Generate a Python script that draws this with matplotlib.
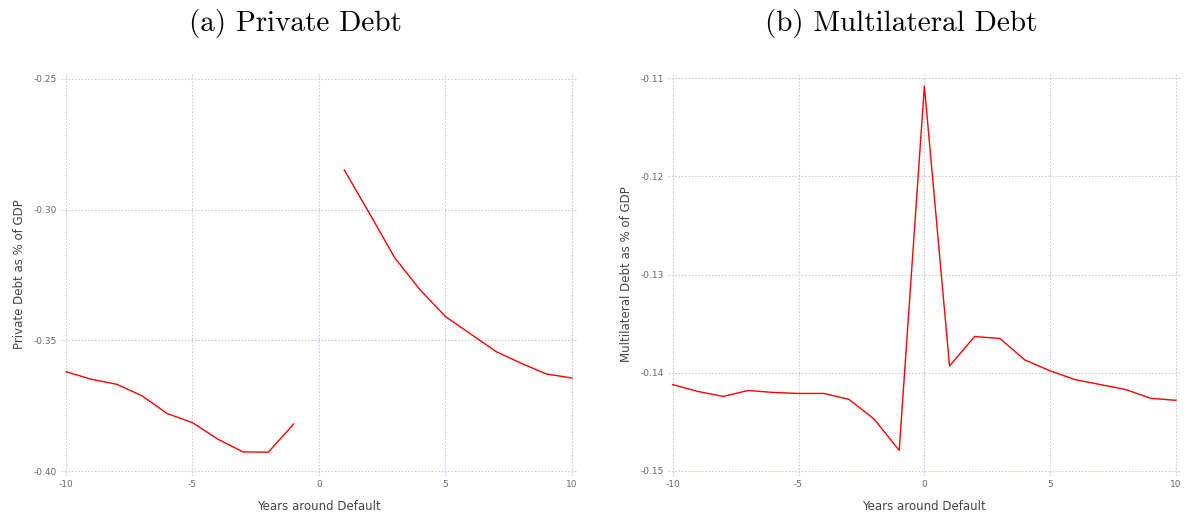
import numpy as np
import matplotlib
matplotlib.use("Agg")
import matplotlib.pyplot as plt

years = list(range(-10, 11))
private_debt = [-0.3620, -0.3649, -0.3668, -0.3712, -0.3780, -0.3815, -0.3878, -0.3927, -0.3928, -0.3820,
                np.nan,
                -0.2848, -0.3015, -0.3185, -0.3307, -0.3409, -0.3476, -0.3543, -0.3588, -0.3629, -0.3644]
multilateral_debt = [-0.1412, -0.1419, -0.1424, -0.1418, -0.1420, -0.1421, -0.1421, -0.1427, -0.1447, -0.1479,
                     -0.1108,
                     -0.1393, -0.1363, -0.1365, -0.1387, -0.1398, -0.1407, -0.1412, -0.1417, -0.1426, -0.1428]

titles = ["(a) Private Debt", "(b) Multilateral Debt"]
ylabels = ["Private Debt as % of GDP", "Multilateral Debt as % of GDP"]
xlabel = "Years around Default"
xticks = [-10, -5, 0, 5, 10]
yticks_left = [-0.40, -0.35, -0.30, -0.25]
yticks_right = [-0.15, -0.14, -0.13, -0.12, -0.11]

fig = plt.figure(figsize=(11.86, 5.15), dpi=100)
ax1 = fig.add_axes([0.0514, 0.0763, 0.4351, 0.7825])
ax2 = fig.add_axes([0.5630, 0.0763, 0.4328, 0.7825])

grid_color = "#c9c9e0"
tick_color = "#666666"
label_color = "#444444"

def style(ax, series, yticks, ylim, fmt, ylabel):
    ax.plot(years, series, color="red", lw=1.0)
    ax.set_xlim(-10.2, 10.2)
    ax.set_ylim(*ylim)
    ax.set_xticks(xticks)
    ax.set_xticklabels([str(t) for t in xticks])
    ax.set_yticks(yticks)
    ax.set_yticklabels([fmt.format(t) for t in yticks])
    for s in ax.spines.values():
        s.set_visible(False)
    ax.grid(True, color=grid_color, linestyle=(0, (1.5, 1.5)), linewidth=0.8)
    ax.set_axisbelow(True)
    ax.tick_params(length=0, labelsize=6.5, colors=tick_color, pad=3)
    ax.set_xlabel(xlabel, fontsize=8.5, color=label_color, labelpad=8)
    ax.set_ylabel(ylabel, fontsize=8.5, color=label_color, labelpad=5)

style(ax1, private_debt, yticks_left, (-0.4018, -0.2476), "{:.2f}", ylabels[0])
style(ax2, multilateral_debt, yticks_right, (-0.15048, -0.10943), "{:.2f}", ylabels[1])

fig.text(295 / 1186, 1 - 23 / 515, titles[0], fontsize=21, family="cmr10", ha="center", va="center")
fig.text(901 / 1186, 1 - 23 / 515, titles[1], fontsize=21, family="cmr10", ha="center", va="center")

fig.savefig("out.png", dpi=100)
